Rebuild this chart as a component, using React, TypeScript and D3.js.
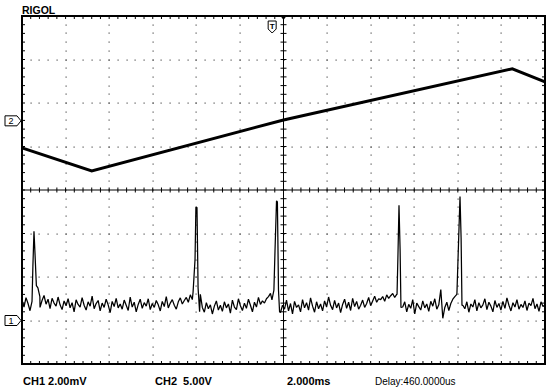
import React, { useEffect, useRef } from 'react'
import * as d3 from 'd3'

// CH1 background noise, mV, evenly spaced across the 24 ms screen
const ch1Noise = [
  0.95, 0.62, 1.05, 0.78, 0.45, 0.88, 0.70, 1.10, 0.85, 0.60,
  0.92, 1.15, 0.75, 0.98, 0.55, 1.02, 0.80, 0.66, 1.08, 0.72,
  0.50, 0.90, 0.68, 1.00, 0.58, 0.82, 0.40, 0.95, 0.74, 0.62,
  1.05, 0.70, 0.48, 0.86, 0.66, 1.12, 0.54, 0.78, 0.92, 0.44,
  0.80, 0.60, 0.98, 0.72, 0.36, 0.88, 0.64, 1.02, 0.58, 0.76,
  0.52, 0.94, 0.70, 0.46, 1.08, 0.62, 0.84, 0.40, 0.74, 0.98,
  0.56, 0.82, 0.66, 1.00, 0.50, 0.78, 0.60, 0.92, 0.72, 0.44,
  0.88, 0.64, 1.10, 0.58, 0.80, 0.96, 0.70, 0.52, 0.86, 1.04,
  0.76, 0.92, 1.06, 0.84, 1.18, 0.96, 1.24, 1.08, 1.30, 1.20,
  0.60, 0.38, 0.82, 0.54, 0.72, 0.30, 0.66, 0.90, 0.48, 0.70,
  0.42, 0.86, 0.58, 0.76, 0.34, 0.94, 0.62, 0.50, 1.00, 0.68,
  0.46, 0.80, 0.56, 0.98, 0.70, 0.40, 0.84, 0.62, 1.06, 0.74,
  0.90, 0.80, 1.00, 1.10, 1.25, 1.40, 0.60, 0.45, 0.82, 0.36,
  0.70, 0.52, 0.94, 0.44, 0.78, 0.30, 0.88, 0.60, 0.72, 0.40,
  0.96, 0.58, 0.82, 0.48, 1.04, 0.66, 0.38, 0.86, 0.54, 0.76,
  0.44, 0.90, 0.62, 1.08, 0.70, 0.50, 0.92, 0.58, 0.80, 0.36,
  0.74, 0.98, 0.56, 0.84, 0.46, 1.02, 0.64, 0.88, 0.52, 0.70,
  0.94, 0.60, 0.78, 1.06, 0.68, 0.90, 1.12, 0.84, 1.00, 0.96,
  1.10, 0.88, 1.18, 1.02, 1.14, 1.24, 1.06, 1.20, 0.70, 0.45,
  0.62, 0.86, 0.40, 0.74, 0.56, 0.96, 0.30, 0.80, 0.64, 0.48,
  0.90, 0.58, 0.76, 0.42, 0.88, 0.66, 1.00, 0.52, 0.72, 1.42,
  0.10, 0.60, 0.84, 0.46, 0.78, 0.98, 1.10, 1.20, 0.50, 0.40,
  0.70, 0.54, 0.86, 0.38, 0.76, 0.62, 0.96, 0.44, 0.82, 0.58,
  0.72, 1.00, 0.50, 0.84, 0.66, 0.40, 0.92, 0.60, 0.78, 0.48,
  0.88, 0.56, 1.04, 0.70, 0.44, 0.82, 0.62, 0.96, 0.52, 0.74,
  0.60, 0.90, 0.46, 0.80, 0.68, 1.02, 0.54, 0.76, 0.42, 0.86,
  0.64, 0.72,
]

// CH1 pulses: [time ms, mV]
const ch1Spikes = [
  [[-11.54, 0.9], [-11.5, 2.5], [-11.45, 4.1], [-11.4, 3.0], [-11.34, 1.6], [-11.27, 1.5], [-11.18, 1.1]],
  [[-4.15, 1.3], [-4.06, 2.8], [-4.02, 5.2], [-3.97, 5.2], [-3.92, 1.5], [-3.85, 0.4]],
  [[-0.53, 0.95], [-0.44, 1.4], [-0.39, 3.2], [-0.32, 5.5], [-0.28, 5.45], [-0.23, 1.4], [-0.18, 0.4]],
  [[5.21, 1.2], [5.25, 2.9], [5.3, 5.3], [5.35, 3.3], [5.39, 0.6]],
  [[7.96, 1.3], [8.03, 3.5], [8.1, 5.7], [8.15, 3.8], [8.19, 0.7]],
]

// CH2 triangle: [time ms, V]
const ch2Points = [[-12, -3.1], [-8.8, -5.75], [0, 0.1], [10.5, 5.98], [12, 4.48]]

const ch1Offset = -3.0 // divisions
const ch2Offset = 1.59
const ch1Scale = 2 // mV/div
const ch2Scale = 5 // V/div

const bottomLabels = [
  { text: 'CH1 2.00mV', x: 23, bold: true },
  { text: 'CH2  5.00V', x: 155, bold: true },
  { text: '2.000ms', x: 287, bold: true },
  { text: 'Delay:460.0000us', x: 375, bold: false },
]

const font = '"Liberation Sans", Arial, sans-serif'

const App = () => {
  const svgRef = useRef<SVGSVGElement>(null)

  useEffect(() => {
    draw()
  }, [])

  const draw = () => {
    const svg = d3.select(svgRef.current)
    svg.selectAll('*').remove()

    const left = 22, right = 545, top = 16, bottom = 364
    const x = d3.scaleLinear().domain([-12, 12]).range([left, right])
    const y = d3.scaleLinear().domain([-4, 4]).range([bottom, top])
    const y1 = (v: number) => y(ch1Offset + v / ch1Scale)
    const y2 = (v: number) => y(ch2Offset + v / ch2Scale)

    svg.append('rect').attr('width', 550).attr('height', 388).attr('fill', '#fff')

    const majorX = d3.range(-12, 12.001, 2)
    const majorY = d3.range(-4, 4.001, 1)
    const minorX = d3.range(-12, 12.001, 0.4)
    const minorY = d3.range(-4, 4.001, 0.2)

    // dotted grid
    const grid = svg.append('g').attr('fill', '#555')
    majorX.filter(d => Math.abs(d) > 0.01 && Math.abs(d) < 11.99).forEach(gx => {
      grid.selectAll(null).data(minorY).enter().append('rect')
        .attr('x', Math.round(x(gx)) - 0.5).attr('y', d => Math.round(y(d)) - 0.5)
        .attr('width', 1.2).attr('height', 1.2)
    })
    majorY.filter(d => Math.abs(d) > 0.01 && Math.abs(d) < 3.99).forEach(gy => {
      grid.selectAll(null).data(minorX).enter().append('rect')
        .attr('x', d => Math.round(x(d)) - 0.5).attr('y', Math.round(y(gy)) - 0.5)
        .attr('width', 1.2).attr('height', 1.2)
    })

    // center cross with ticks
    const axes = svg.append('g').attr('stroke', '#000').attr('stroke-width', 1)
    axes.append('line').attr('x1', left).attr('x2', right).attr('y1', y(0)).attr('y2', y(0))
    axes.append('line').attr('x1', x(0)).attr('x2', x(0)).attr('y1', top).attr('y2', bottom)
    axes.selectAll(null).data(minorX).enter().append('line')
      .attr('x1', d => x(d)).attr('x2', d => x(d)).attr('y1', y(0) - 2.5).attr('y2', y(0) + 2.5)
    axes.selectAll(null).data(minorY).enter().append('line')
      .attr('y1', d => y(d)).attr('y2', d => y(d)).attr('x1', x(0) - 3).attr('x2', x(0) + 3)

    // border ticks
    axes.selectAll(null).data(minorX).enter().append('line')
      .attr('x1', d => x(d)).attr('x2', d => x(d)).attr('y1', top).attr('y2', top + 3)
    axes.selectAll(null).data(minorX).enter().append('line')
      .attr('x1', d => x(d)).attr('x2', d => x(d)).attr('y1', bottom).attr('y2', bottom - 3)
    axes.selectAll(null).data(minorY).enter().append('line')
      .attr('y1', d => y(d)).attr('y2', d => y(d)).attr('x1', left).attr('x2', left + 3)
    axes.selectAll(null).data(minorY).enter().append('line')
      .attr('y1', d => y(d)).attr('y2', d => y(d)).attr('x1', right).attr('x2', right - 3)

    svg.append('rect')
      .attr('x', left).attr('y', top).attr('width', right - left).attr('height', bottom - top)
      .attr('fill', 'none').attr('stroke', '#000').attr('stroke-width', 2)

    // traces
    const dt = 24 / (ch1Noise.length - 1)
    let ch1: number[][] = ch1Noise.map((v, i) => [-12 + i * dt, v])
    ch1Spikes.forEach(s => {
      const t0 = s[0][0], t1 = s[s.length - 1][0]
      ch1 = ch1.filter(p => p[0] < t0 || p[0] > t1)
    })
    ch1 = ch1.concat(...ch1Spikes).sort((a, b) => a[0] - b[0])

    const line1 = d3.line<number[]>().x(d => x(d[0])).y(d => y1(d[1]))
    const line2 = d3.line<number[]>().x(d => x(d[0])).y(d => y2(d[1]))

    svg.append('path').datum(ch2Points).attr('d', line2)
      .attr('fill', 'none').attr('stroke', '#000').attr('stroke-width', 3)
    svg.append('path').datum(ch1).attr('d', line1)
      .attr('fill', 'none').attr('stroke', '#000').attr('stroke-width', 1.25)
      .attr('stroke-linejoin', 'bevel')

    // channel markers
    const marker = (yy: number, label: string) => {
      const g = svg.append('g')
      g.append('path')
        .attr('d', `M5,${yy - 5}H17L21,${yy}L17,${yy + 5}H5Z`)
        .attr('fill', '#fff').attr('stroke', '#000').attr('stroke-width', 1)
      g.append('text').attr('x', 11).attr('y', yy + 3.5).attr('text-anchor', 'middle')
        .attr('font-family', font).attr('font-size', 9).text(label)
    }
    marker(y2(0), '2')
    marker(y1(0), '1')

    // trigger markers
    const tx = x(-0.52)
    svg.append('path')
      .attr('d', `M${tx - 4},21H${tx + 4}V29L${tx},33L${tx - 4},29Z`)
      .attr('fill', '#fff').attr('stroke', '#000').attr('stroke-width', 1)
    svg.append('text').attr('x', tx).attr('y', 29).attr('text-anchor', 'middle')
      .attr('font-family', font).attr('font-size', 8).attr('font-weight', 'bold').text('T')
    svg.append('path')
      .attr('d', `M${x(0) - 3},16H${x(0) + 3}L${x(0)},20Z`).attr('fill', '#000')

    // texts
    svg.append('text').attr('x', 22).attr('y', 13.5)
      .attr('font-family', font).attr('font-size', 10.5).attr('font-weight', 'bold').text('RIGOL')
    svg.append('g').selectAll('text').data(bottomLabels).enter().append('text')
      .attr('x', d => d.x).attr('y', 385)
      .attr('font-family', font)
      .attr('font-size', d => d.bold ? 11 : 10)
      .attr('font-weight', d => d.bold ? 'bold' : 'normal')
      .style('white-space', 'pre')
      .text(d => d.text)
  }

  return (
    <div style={{ position: 'absolute', left: 0, top: 0 }}>
      <svg ref={svgRef} width={550} height={388} style={{ display: 'block' }} />
    </div>
  )
}

export default App
